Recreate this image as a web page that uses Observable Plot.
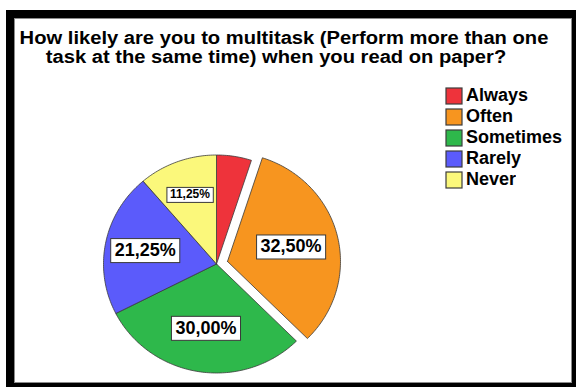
<!DOCTYPE html>
<html>
<head>
<meta charset="utf-8">
<script src="https://cdn.jsdelivr.net/npm/d3@7"></script>
<script src="https://cdn.jsdelivr.net/npm/@observablehq/plot@0.6"></script>
<style>
  html, body { margin: 0; padding: 0; background: #fff; }
  #chart { position: relative; width: 576px; height: 387px; overflow: hidden;
           font-family: "Liberation Sans", Arial, sans-serif; }
  #outer { position: absolute; left: 6px; top: 10px; width: 574px; height: 381px; background: #000; }
  #inner { position: absolute; left: 14px; top: 18px; width: 558px; height: 365px; background: #fff;
           box-sizing: border-box; border: 1px solid #8c8c8c; }
  .title { position: absolute; font-weight: bold; font-size: 18px; line-height: 18px; color: #000;
           white-space: nowrap; transform: translateX(-50%) scaleX(1.12); }
  #chart > svg { position: absolute; left: 0; top: 0; }
  #legend { position: absolute; left: 446px; top: 85px; }
  .lg-swatches { font-family: "Liberation Sans", Arial, sans-serif; font-size: 18px; font-weight: bold;
                 color: #000; margin: 0; }
  .lg-swatch { height: 21px; padding: 0 !important; }
  .lg-swatch > svg { margin-right: 4px !important; }
  .lg-swatch rect { stroke: #3c3c3c; stroke-width: 1.2; }
</style>
</head>
<body>
<div id="chart">
  <div id="outer"></div>
  <div id="inner"></div>
  <div class="title" style="left:284px; top:29px;">How likely are you to multitask (Perform more than one</div>
  <div class="title" style="left:276px; top:48px;">task at the same time) when you read on paper?</div>
  <div id="legend"></div>
</div>
<script>
// Answer categories, their share of respondents (%) and slice colours
const categories = ["Always", "Often", "Sometimes", "Rarely", "Never"];
const percents = [5, 32.5, 30, 21.25, 11.25];
const colors = ["#ee333b", "#f7951f", "#2eb84b", "#5b5bfb", "#fbf87b"];
const exploded = ["Often"];

// Slice angles, clockwise from 12 o'clock
const total = d3.sum(percents);
let acc = 0;
const slices = categories.map((cat, i) => {
  const a0 = acc / total * 2 * Math.PI;
  acc += percents[i];
  const a1 = acc / total * 2 * Math.PI;
  const mid = (a0 + a1) / 2;
  const off = exploded.includes(cat) ? 0.1 : 0;
  return {cat, value: percents[i], a0, a1, mid, cx: off * Math.sin(mid), cy: -off * Math.cos(mid)};
});

// Closed outline of each wedge (centre → arc → centre) in unit-circle coordinates
const outline = slices.flatMap(s => {
  const n = Math.max(2, Math.ceil((s.a1 - s.a0) / (Math.PI / 180)));
  const pts = [{cat: s.cat, x: s.cx, y: s.cy}];
  for (let k = 0; k <= n; k++) {
    const a = s.a0 + (s.a1 - s.a0) * k / n;
    pts.push({cat: s.cat, x: s.cx + Math.sin(a), y: s.cy - Math.cos(a)});
  }
  pts.push({cat: s.cat, x: s.cx, y: s.cy});
  return pts;
});

// Percentage labels near each larger wedge's centroid
const fmt = v => v.toFixed(2).replace(".", ",") + "%";
const labels = slices.filter(s => s.value >= 10).map(s => {
  const h = (s.a1 - s.a0) / 2;
  const r = 1.04 * 2 * Math.sin(h) / (3 * h);
  return {
    x: s.cx + r * Math.sin(s.mid),
    y: s.cy - r * Math.cos(s.mid),
    text: fmt(s.value),
    size: s.value < 15 ? 12 : 18
  };
});

const plot = Plot.plot({
  width: 576,
  height: 387,
  x: {domain: [-1, 1], range: [103, 329], axis: null},
  y: {domain: [-1, 1], range: [154.5, 372.5], axis: null},
  color: {domain: categories, range: colors},
  style: {background: "transparent", overflow: "visible"},
  marks: [
    Plot.line(outline, {x: "x", y: "y", z: "cat", fill: "cat", stroke: "#3a3a3a",
                        strokeWidth: 0.8, strokeLinejoin: "round"}),
    Plot.text(labels, {x: "x", y: "y", text: "text", fontSize: "size", fontWeight: "bold",
                       fontFamily: "Liberation Sans, Arial, sans-serif", fill: "#000"})
  ]
});

const chart = document.getElementById("chart");
chart.insertBefore(plot, document.getElementById("legend"));
document.getElementById("legend").append(
  plot.legend("color", {columns: 1, swatchSize: 16, className: "lg"})
);

// White boxes behind the percentage labels
plot.querySelectorAll("g[aria-label='text'] text").forEach(t => {
  const b = t.getBBox();
  const big = parseFloat(getComputedStyle(t).fontSize) >= 15;
  const px = big ? 4 : 3, py = big ? 2 : 0.5;
  const r = document.createElementNS("http://www.w3.org/2000/svg", "rect");
  r.setAttribute("x", b.x - px);
  r.setAttribute("y", b.y - py + 0.5);
  r.setAttribute("width", b.width + 2 * px);
  r.setAttribute("height", b.height + 2 * py);
  r.setAttribute("fill", "#fff");
  r.setAttribute("stroke", "#3a3a3a");
  r.setAttribute("stroke-width", 1);
  if (t.getAttribute("transform")) r.setAttribute("transform", t.getAttribute("transform"));
  t.parentNode.insertBefore(r, t);
});
</script>
</body>
</html>
